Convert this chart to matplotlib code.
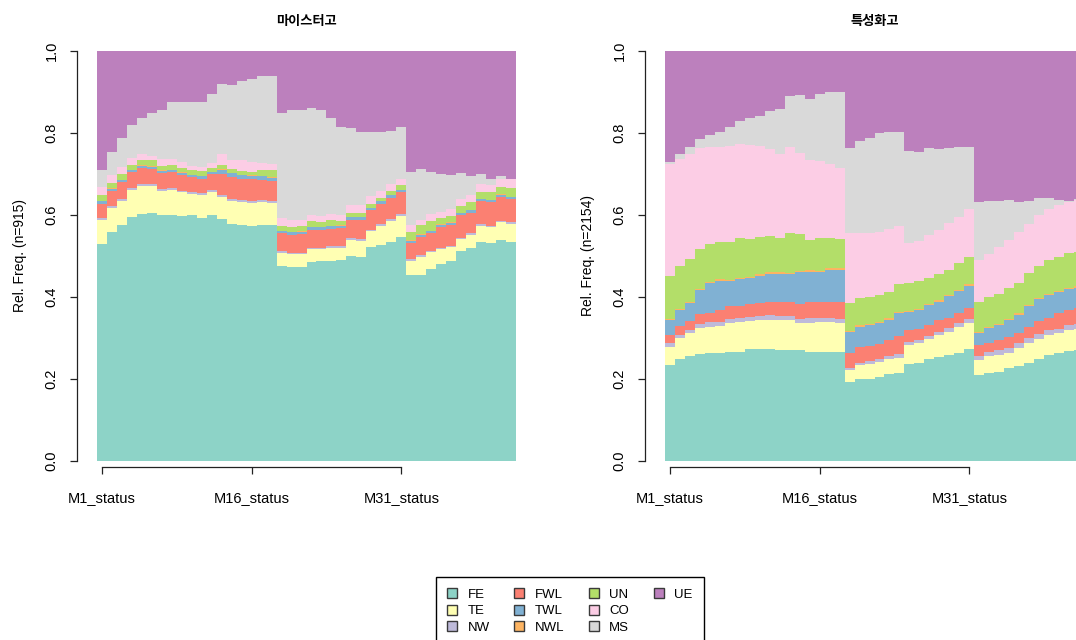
import numpy as np
import matplotlib.pyplot as plt
from matplotlib.patches import Patch

plt.rcParams['font.family'] = ['Liberation Sans', 'Noto Sans CJK KR']

states = ['FE', 'TE', 'NW', 'FWL', 'TWL', 'NWL', 'UN', 'CO', 'MS', 'UE']
colors = ['#8DD3C7', '#FFFFB3', '#BEBADA', '#FB8072', '#80B1D3',
          '#FDB462', '#B3DE69', '#FCCDE5', '#D9D9D9', '#BC80BD']
tick_months = ['M1_status', 'M16_status', 'M31_status']

# 마이스터고 (n=915): 월별 상태 비율, M1..M42
meister_fe = [.529, .559, .575, .594, .603, .606, .599, .601, .598, .600, .592, .600, .590, .578,
              .576, .574, .575, .575, .476, .473, .473, .485, .487, .489, .490, .500, .498, .521,
              .527, .535, .546, .454, .454, .468, .480, .487, .511, .519, .535, .532, .538, .535]
meister_te = [.059, .059, .060, .067, .068, .065, .060, .059, .057, .052, .057, .057, .055, .057,
              .056, .056, .057, .055, .031, .031, .031, .031, .029, .031, .030, .039, .039, .039,
              .047, .051, .052, .034, .044, .041, .036, .034, .030, .032, .038, .038, .044, .043]
meister_nw = [.004, .004, .005, .004, .004, .004, .004, .005, .004, .004, .004, .004, .004, .004,
              .004, .004, .004, .004, .004, .004, .004, .004, .004, .004, .004, .004, .004, .004,
              .004, .004, .004, .004, .004, .004, .004, .004, .004, .004, .004, .004, .004, .004]
meister_fwl = [.036, .037, .040, .039, .040, .038, .040, .039, .039, .036, .036, .038, .051, .053,
               .053, .054, .050, .049, .044, .044, .045, .044, .044, .043, .044, .046, .048, .047,
               .050, .052, .053, .040, .045, .043, .051, .051, .054, .051, .057, .057, .059, .057]
meister_twl = [.005, .005, .005, .005, .005, .005, .005, .005, .005, .005, .005, .005, .010, .010,
               .008, .008, .008, .008, .006, .006, .006, .006, .006, .006, .006, .006, .006, .006,
               .006, .006, .006, .005, .005, .005, .005, .005, .005, .005, .005, .005, .005, .005]
meister_nwl = [.001, .001, .001, .001, .001, .001, .001, .001, .001, .001, .001, .001, .001, .001,
               .001, .001, .001, .001, .001, .001, .001, .001, .001, .001, .001, .001, .001, .001,
               .001, .001, .001, .001, .001, .001, .001, .001, .001, .001, .001, .001, .001, .001]
meister_un = [.015, .013, .014, .012, .013, .015, .011, .012, .010, .012, .012, .010, .011, .008,
              .010, .007, .015, .018, .012, .011, .012, .014, .012, .014, .011, .010, .010, .010,
              .007, .010, .010, .020, .022, .023, .015, .016, .018, .020, .017, .018, .017, .022]
meister_co = [.020, .020, .018, .018, .014, .011, .016, .015, .015, .010, .011, .011, .026, .023,
              .026, .026, .018, .015, .018, .017, .017, .015, .015, .015, .015, .018, .018, .018,
              .017, .016, .017, .018, .014, .017, .016, .016, .015, .016, .018, .018, .019, .020]
meister_ms = [.041, .056, .069, .080, .088, .105, .120, .139, .147, .156, .158, .168, .171, .183,
              .194, .201, .211, .214, .256, .269, .267, .262, .258, .233, .213, .187, .178, .156,
              .143, .129, .126, .130, .122, .104, .092, .083, .064, .046, .024, .015, .007, .002]
meister_ue = [.290, .246, .213, .180, .164, .150, .144, .124, .124, .124, .124, .106, .081, .083,
              .072, .069, .061, .061, .152, .144, .144, .138, .144, .164, .186, .189, .198, .198,
              .198, .196, .185, .294, .289, .294, .300, .303, .298, .306, .301, .312, .306, .311]

# 특성화고 (n=2154)
spec_fe = [.234, .248, .256, .261, .263, .263, .265, .267, .272, .272, .274, .271, .271, .271,
           .267, .267, .267, .267, .192, .199, .201, .204, .211, .214, .237, .238, .249, .254,
           .259, .264, .273, .209, .214, .218, .226, .232, .240, .250, .259, .263, .268, .270]
spec_te = [.045, .051, .055, .064, .065, .066, .071, .073, .069, .072, .071, .073, .073, .065,
           .069, .073, .073, .070, .030, .035, .036, .038, .038, .038, .046, .049, .049, .053,
           .056, .063, .064, .038, .041, .041, .038, .043, .047, .048, .048, .048, .051, .052]
spec_nw = [.008, .008, .008, .010, .010, .010, .010, .010, .010, .010, .010, .010, .010, .010,
           .012, .010, .010, .010, .006, .006, .006, .006, .008, .008, .008, .008, .008, .008,
           .010, .010, .010, .010, .010, .012, .012, .012, .012, .012, .012, .012, .012, .012]
spec_fwl = [.020, .023, .023, .024, .024, .029, .033, .029, .031, .031, .032, .033, .033, .036,
            .039, .037, .039, .040, .035, .037, .037, .037, .038, .045, .028, .028, .026, .030,
            .025, .025, .025, .026, .024, .024, .027, .024, .029, .032, .030, .037, .037, .038]
spec_twl = [.037, .038, .044, .057, .071, .072, .059, .065, .064, .067, .070, .070, .069, .079,
            .075, .073, .078, .080, .051, .051, .052, .052, .050, .055, .045, .045, .048, .044,
            .052, .053, .056, .028, .035, .037, .040, .046, .050, .053, .056, .052, .051, .051]
spec_nwl = [.003, .003, .003, .003, .003, .003, .003, .003, .003, .003, .003, .003, .003, .003,
            .003, .003, .003, .003, .003, .003, .003, .003, .003, .003, .003, .003, .003, .003,
            .003, .003, .003, .003, .003, .003, .003, .003, .003, .003, .003, .003, .003, .003]
spec_un = [.105, .105, .103, .099, .093, .092, .094, .096, .093, .092, .090, .085, .096, .089,
           .074, .080, .075, .071, .068, .067, .064, .065, .065, .068, .066, .068, .064, .064,
           .061, .064, .067, .073, .072, .072, .075, .075, .077, .078, .082, .083, .085, .084]
spec_co = [.272, .261, .258, .245, .236, .230, .234, .230, .229, .221, .210, .205, .210, .199,
           .195, .189, .179, .173, .170, .159, .156, .154, .152, .141, .098, .098, .104, .107,
           .114, .112, .117, .103, .107, .116, .118, .123, .120, .124, .125, .126, .125, .126]
spec_ms = [.005, .013, .015, .022, .029, .037, .045, .057, .065, .074, .094, .108, .125, .141,
           .150, .162, .177, .187, .208, .223, .233, .240, .237, .230, .226, .217, .212, .197,
           .183, .171, .150, .142, .128, .112, .097, .074, .056, .041, .026, .012, .003, .003]
spec_ue = [.271, .250, .235, .215, .206, .198, .186, .170, .164, .158, .146, .142, .110, .107,
           .116, .106, .099, .099, .237, .220, .212, .201, .198, .198, .243, .246, .237, .240,
           .237, .235, .235, .368, .366, .365, .364, .368, .366, .359, .359, .364, .365, .361]

meister = [meister_fe, meister_te, meister_nw, meister_fwl, meister_twl,
           meister_nwl, meister_un, meister_co, meister_ms, meister_ue]
spec = [spec_fe, spec_te, spec_nw, spec_fwl, spec_twl,
        spec_nwl, spec_un, spec_co, spec_ms, spec_ue]


def draw_panel(ax, shares, title, n):
    freq = np.array(shares, dtype=float)
    freq = freq / freq.sum(axis=0)
    x = np.arange(freq.shape[1])
    bottom = np.zeros(freq.shape[1])
    for row, col in zip(freq, colors):
        ax.bar(x, row, width=1, bottom=bottom, align='edge',
               color=col, linewidth=0, antialiased=False)
        bottom += row

    ax.set_xlim(0, freq.shape[1])
    ax.set_ylim(0, 1)
    for side in ('top', 'right'):
        ax.spines[side].set_visible(False)
    ax.spines['left'].set_position(('outward', 14.5))
    ax.spines['bottom'].set_position(('outward', 4.3))
    ax.spines['left'].set_bounds(0, 1)
    ax.spines['bottom'].set_bounds(0.5, 30.5)
    for side in ('left', 'bottom'):
        ax.spines[side].set_linewidth(0.9)
        ax.spines[side].set_color('#222222')

    ax.set_xticks([0.5, 15.5, 30.5])
    ax.set_xticklabels(tick_months)
    ax.set_yticks(np.arange(0, 1.01, 0.2))
    ax.set_yticklabels([f'{v:.1f}' for v in np.arange(0, 1.01, 0.2)])
    ax.tick_params(axis='both', length=5, width=0.9, color='#222222', labelsize=10.5)
    ax.tick_params(axis='y', labelrotation=90, pad=8)
    ax.tick_params(axis='x', pad=12)
    for lab in ax.get_yticklabels():
        lab.set_va('center')

    ax.set_ylabel(f'Rel. Freq. (n={n})', fontsize=10)
    ax.yaxis.set_label_coords(-0.168, 0.5)
    ax.set_title(title, fontsize=9.5, fontweight='bold', pad=19,
                 family=['Noto Sans CJK KR', 'DejaVu Sans'])


fig = plt.figure(figsize=(10.76, 6.4), dpi=100)
ax1 = fig.add_axes([97 / 1076, 179 / 640, 419 / 1076, 410 / 640])
ax2 = fig.add_axes([665 / 1076, 179 / 640, 419 / 1076, 410 / 640])
draw_panel(ax1, meister, '마이스터고', 915)
draw_panel(ax2, spec, '특성화고', 2154)

handles = [Patch(facecolor=c, edgecolor='#3a3a3a', linewidth=1.0) for c in colors]
labels = list(states)
# 빈 항목 두 개로 4열 x 3행 배치를 맞춤
handles += [Patch(facecolor='none', edgecolor='none')] * 2
labels += ['', '']
leg = fig.legend(handles, labels, ncol=4, loc='upper center',
                 bbox_to_anchor=(570 / 1076, 1 - 570 / 640),
                 frameon=True, fancybox=False, edgecolor='black', framealpha=1,
                 fontsize=9.5, handlelength=0.75, handleheight=0.75,
                 handletextpad=0.8, columnspacing=1.85, labelspacing=0.3,
                 borderpad=0.9)
leg.get_frame().set_linewidth(1.0)

fig.savefig('out.png', dpi=100)
